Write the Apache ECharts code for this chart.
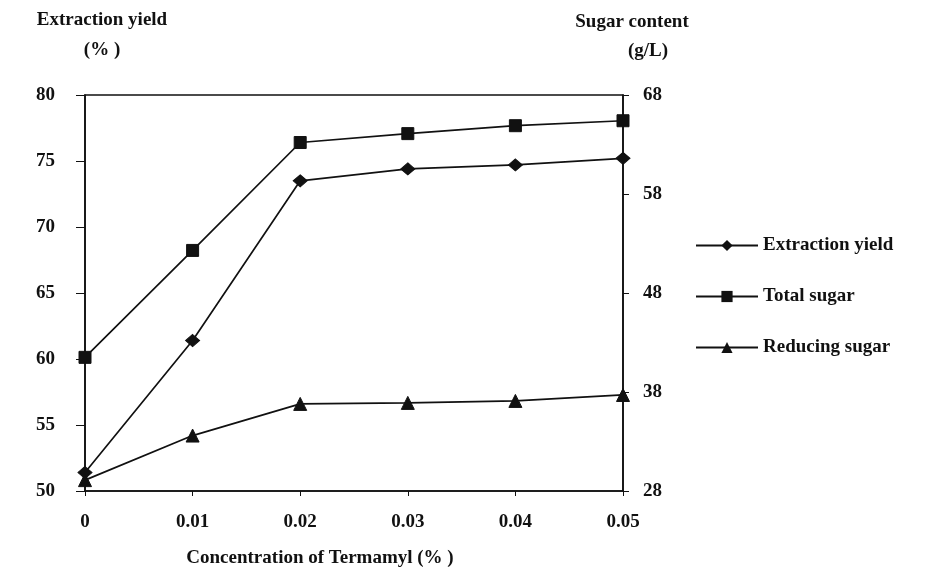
<!DOCTYPE html>
<html>
<head>
<meta charset="utf-8">
<script src="https://cdn.jsdelivr.net/npm/echarts@6/dist/echarts.min.js"></script>
<style>html,body{margin:0;padding:0;background:#fff}#c{width:951px;height:574px}</style>
</head>
<body>
<div id="c"></div>
<script>
var categories = ['0', '0.01', '0.02', '0.03', '0.04', '0.05'];
var extractionYield = [51.4, 61.4, 73.5, 74.4, 74.7, 75.2];
var totalSugar = [41.5, 52.3, 63.2, 64.1, 64.9, 65.4];
var reducingSugar = [29.1, 33.6, 36.8, 36.9, 37.1, 37.7];
var seriesNames = ['Extraction yield', 'Total sugar', 'Reducing sugar'];

var FONT = '"Liberation Serif", "Times New Roman", serif';
var chart = echarts.init(document.getElementById('c'));
var txt = {fontFamily: FONT, fontWeight: 'bold', fontSize: 19, color: '#111'};
var gfont = 'bold 19px ' + FONT;

function lineSeries(name, data, yIdx, symbol, size) {
  return {
    name: name, type: 'line', yAxisIndex: yIdx, data: data,
    symbol: symbol, symbolSize: size, showSymbol: true,
    lineStyle: {color: '#111', width: 1.7},
    itemStyle: {color: '#111', borderColor: '#111'},
    animation: false
  };
}

chart.setOption({
  backgroundColor: '#fff',
  animation: false,
  grid: {left: 85, right: 328, top: 95, bottom: 83, show: true, borderColor: '#111', borderWidth: 1.6, backgroundColor: 'transparent'},
  legend: {
    orient: 'vertical', left: 690, top: 231, itemWidth: 62, itemHeight: 14, itemGap: 32,
    data: seriesNames,
    textStyle: {fontFamily: FONT, fontWeight: 'bold', fontSize: 19, color: '#111'},
    inactiveColor: '#111'
  },
  xAxis: {
    type: 'category', data: categories, boundaryGap: false,
    axisLine: {lineStyle: {color: '#111', width: 1.6}},
    axisTick: {show: true, length: 5, lineStyle: {color: '#111'}},
    axisLabel: Object.assign({margin: 22}, txt),
    splitLine: {show: false}
  },
  yAxis: [
    {
      type: 'value', min: 50, max: 80, interval: 5, position: 'left',
      axisLine: {show: true, lineStyle: {color: '#111', width: 1.6}},
      axisTick: {show: true, length: 9, lineStyle: {color: '#111'}},
      axisLabel: Object.assign({margin: 30}, txt),
      splitLine: {show: false}
    },
    {
      type: 'value', min: 28, max: 68, interval: 10, position: 'right',
      axisLine: {show: true, lineStyle: {color: '#111', width: 1.6}},
      axisTick: {show: true, length: 6, lineStyle: {color: '#111'}},
      axisLabel: Object.assign({margin: 20}, txt),
      splitLine: {show: false}
    }
  ],
  series: [
    lineSeries(seriesNames[0], extractionYield, 0, 'diamond', [14, 12]),
    lineSeries(seriesNames[1], totalSugar, 1, 'rect', 12),
    lineSeries(seriesNames[2], reducingSugar, 1, 'triangle', 13)
  ],
  graphic: [
    {type: 'text', x: 102, y: 11, style: {text: 'Extraction yield', font: gfont, fill: '#111', align: 'center'}},
    {type: 'text', x: 102, y: 41, style: {text: '(% )', font: gfont, fill: '#111', align: 'center'}},
    {type: 'text', x: 632, y: 13, style: {text: 'Sugar content', font: gfont, fill: '#111', align: 'center'}},
    {type: 'text', x: 648, y: 42, style: {text: '(g/L)', font: gfont, fill: '#111', align: 'center'}},
    {type: 'text', x: 320, y: 549, style: {text: 'Concentration of Termamyl (% )', font: gfont, fill: '#111', align: 'center'}}
  ]
});
</script>
</body>
</html>
